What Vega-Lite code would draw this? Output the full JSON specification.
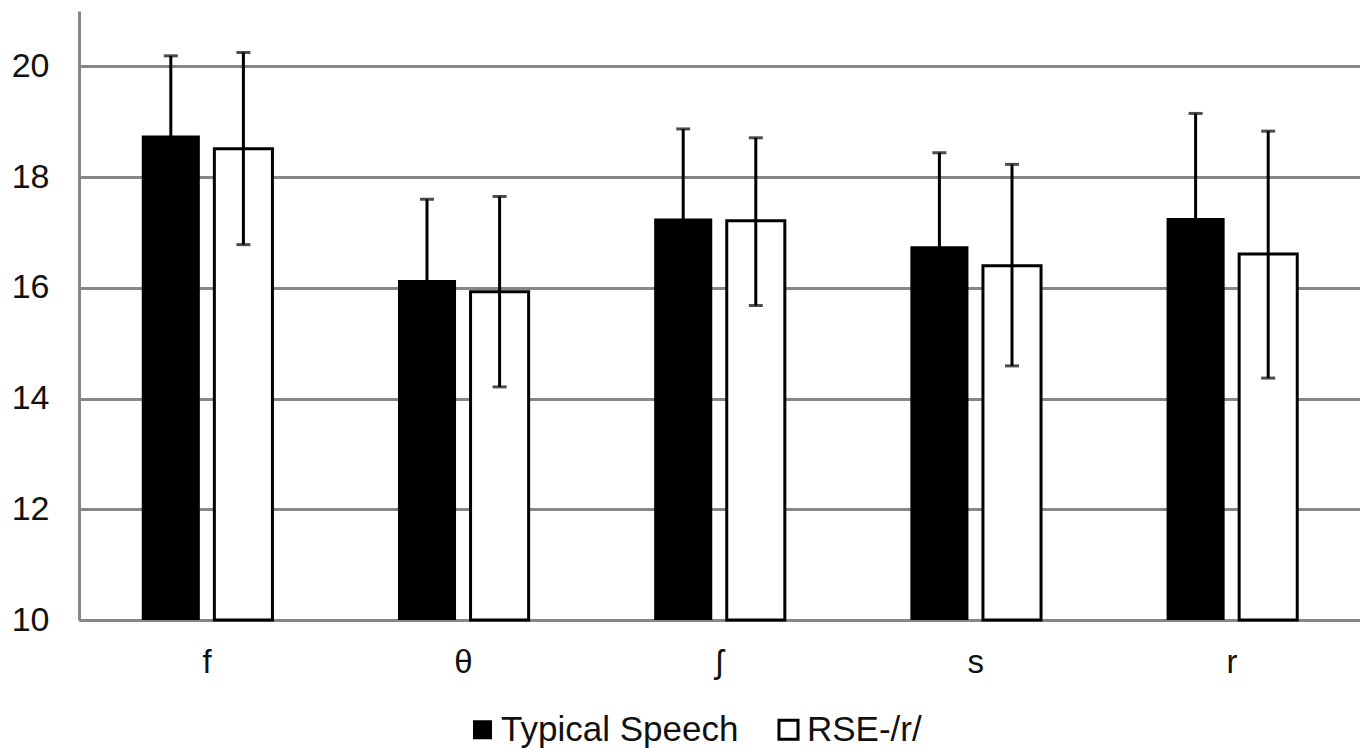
{
  "$schema": "https://vega.github.io/schema/vega-lite/v6.json",
  "width": 1281,
  "height": 609,
  "autosize": {"type": "none"},
  "padding": {"left": 79, "top": 11, "right": 0, "bottom": 131},
  "background": "white",
  "config": {
    "view": {"stroke": null},
    "font": "Liberation Sans",
    "axis": {"labelFont": "Liberation Sans", "labelColor": "#111111"},
    "legend": {"labelFont": "Liberation Sans"}
  },
  "data": {
    "values": [
      {"cat": "f", "series": "Typical Speech", "mean": 18.75, "lo": 17.31, "hi": 20.19},
      {"cat": "f", "series": "RSE-/r/", "mean": 18.51, "lo": 16.78, "hi": 20.25},
      {"cat": "θ", "series": "Typical Speech", "mean": 16.14, "lo": 14.68, "hi": 17.6},
      {"cat": "θ", "series": "RSE-/r/", "mean": 15.93, "lo": 14.21, "hi": 17.65},
      {"cat": "ʃ", "series": "Typical Speech", "mean": 17.25, "lo": 15.63, "hi": 18.87},
      {"cat": "ʃ", "series": "RSE-/r/", "mean": 17.21, "lo": 15.68, "hi": 18.71},
      {"cat": "s", "series": "Typical Speech", "mean": 16.75, "lo": 15.06, "hi": 18.44},
      {"cat": "s", "series": "RSE-/r/", "mean": 16.4, "lo": 14.59, "hi": 18.23},
      {"cat": "r", "series": "Typical Speech", "mean": 17.26, "lo": 15.37, "hi": 19.15},
      {"cat": "r", "series": "RSE-/r/", "mean": 16.61, "lo": 14.37, "hi": 18.83}
    ]
  },
  "encoding": {
    "x": {
      "field": "cat",
      "type": "nominal",
      "sort": ["f", "θ", "ʃ", "s", "r"],
      "scale": {"paddingInner": 0.49, "paddingOuter": 0.245},
      "axis": {
        "title": null,
        "labelAngle": 0,
        "labelFontSize": 33,
        "labelPadding": 26,
        "ticks": false,
        "domainColor": "#878787",
        "domainWidth": 3,
        "grid": false
      }
    },
    "xOffset": {
      "field": "series",
      "type": "nominal",
      "sort": ["Typical Speech", "RSE-/r/"],
      "scale": {"paddingInner": 0.2, "paddingOuter": 0}
    }
  },
  "layer": [
    {
      "mark": {"type": "bar", "stroke": "black"},
      "encoding": {
        "y": {
          "field": "mean",
          "type": "quantitative",
          "scale": {"domain": [10, 21], "zero": false, "nice": false},
          "axis": {
            "title": null,
            "values": [10, 12, 14, 16, 18, 20],
            "format": "d",
            "labelFontSize": 34,
            "labelPadding": 30,
            "ticks": false,
            "domainColor": "#878787",
            "domainWidth": 3,
            "gridColor": "#878787",
            "gridWidth": 3,
            "gridOpacity": 1
          }
        },
        "y2": {"datum": 10},
        "fill": {
          "field": "series",
          "type": "nominal",
          "sort": ["Typical Speech", "RSE-/r/"],
          "scale": {"domain": ["Typical Speech", "RSE-/r/"], "range": ["black", "white"]},
          "legend": {
            "title": null,
            "orient": "none",
            "direction": "horizontal",
            "legendX": 386,
            "legendY": 701,
            "symbolType": "square",
            "symbolSize": 361,
            "symbolStrokeColor": "black",
            "symbolStrokeWidth": 2.5,
            "labelFontSize": 35,
            "labelColor": "#111111",
            "labelOffset": 1,
            "labelLimit": 0,
            "columnPadding": 32,
            "padding": 0
          }
        },
        "strokeWidth": {
          "field": "series",
          "type": "nominal",
          "scale": {"domain": ["Typical Speech", "RSE-/r/"], "range": [0, 3]},
          "legend": null
        }
      }
    },
    {
      "mark": {"type": "rule", "color": "black", "strokeWidth": 3},
      "encoding": {
        "y": {"field": "lo", "type": "quantitative"},
        "y2": {"field": "hi"}
      }
    },
    {
      "mark": {"type": "tick", "color": "black", "thickness": 3, "size": 14},
      "encoding": {
        "y": {"field": "lo", "type": "quantitative"}
      }
    },
    {
      "mark": {"type": "tick", "color": "black", "thickness": 3, "size": 14},
      "encoding": {
        "y": {"field": "hi", "type": "quantitative"}
      }
    }
  ]
}
